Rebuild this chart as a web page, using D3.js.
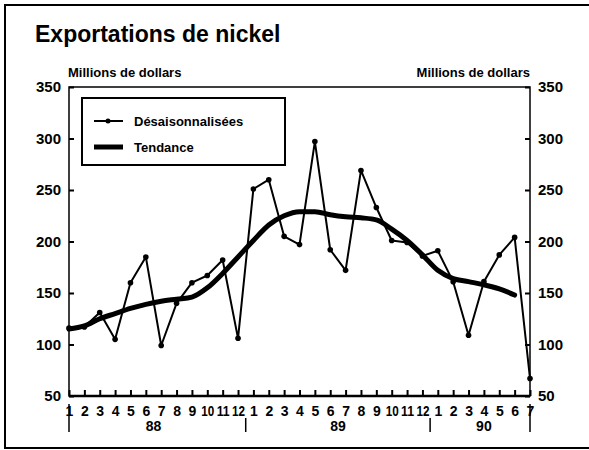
<!DOCTYPE html>
<html>
<head>
<meta charset="utf-8">
<script src="https://cdn.jsdelivr.net/npm/d3@7"></script>
<style>
  body { margin: 0; background: #fff; overflow: hidden; }
  svg text { font-family: "Liberation Sans", Arial, sans-serif; font-weight: bold; fill: #000; }
</style>
</head>
<body>
<svg id="chart" width="589" height="450"></svg>
<script>
// mois (janv. 1988 a juil. 1990)
var monthLabels = ["1","2","3","4","5","6","7","8","9","10","11","12",
                   "1","2","3","4","5","6","7","8","9","10","11","12",
                   "1","2","3","4","5","6","7"];
var years = [
  { label: "88", from: 0, to: 11 },
  { label: "89", from: 12, to: 23 },
  { label: "90", from: 24, to: 30 }
];
var yTicks = [50, 100, 150, 200, 250, 300, 350];

// Desaisonnalisees
var desais = [116, 117, 131, 105, 160, 185, 99, 140, 160, 167, 182, 106,
              251, 260, 205, 197, 297, 192, 172, 269, 233, 201, 199, 186,
              191, 161, 109, 161, 187, 204, 67];
// Tendance (jusqu'a juin 1990)
var tendance = [115, 118, 125, 130, 135, 139, 142, 144, 146, 155, 169, 185,
                201, 216, 225, 229, 229, 226, 224, 223, 221, 212, 201, 187,
                172, 164, 161, 158, 154, 148];

var svg = d3.select("#chart");
var plotL = 69, plotR = 530, plotT = 87, plotB = 396;

var x = d3.scaleLinear().domain([0, monthLabels.length - 1]).range([plotL, plotR]);
var y = d3.scaleLinear().domain([50, 350]).range([plotB, plotT]);

// cadre exterieur (le bord droit sort de l'image)
svg.append("rect")
  .attr("x", 5).attr("y", 5).attr("width", 600).attr("height", 443)
  .attr("fill", "none").attr("stroke", "#000").attr("stroke-width", 2);

svg.append("text")
  .attr("x", 35).attr("y", 42)
  .attr("font-size", 23)
  .text("Exportations de nickel");

svg.append("text").attr("x", 68).attr("y", 77).attr("font-size", 13).text("Millions de dollars");
svg.append("text").attr("x", 530).attr("y", 77).attr("font-size", 13)
  .attr("text-anchor", "end").text("Millions de dollars");

// zone du graphique
svg.append("rect")
  .attr("x", plotL).attr("y", plotT).attr("width", plotR - plotL).attr("height", plotB - plotT)
  .attr("fill", "none").attr("stroke", "#000").attr("stroke-width", 1.5);
svg.append("line")
  .attr("x1", plotL).attr("x2", plotR).attr("y1", plotB).attr("y2", plotB)
  .attr("stroke", "#000").attr("stroke-width", 2.5);

// axes verticaux
var yLeft = d3.axisLeft(y).tickValues(yTicks).tickSize(-5).tickPadding(8);
var yRight = d3.axisRight(y).tickValues(yTicks).tickSize(-5).tickPadding(8);
var gl = svg.append("g").attr("transform", "translate(" + plotL + ",0)").call(yLeft);
var gr = svg.append("g").attr("transform", "translate(" + plotR + ",0)").call(yRight);
[gl, gr].forEach(function(g) {
  g.select(".domain").remove();
  g.selectAll(".tick line").attr("stroke", "#000").attr("stroke-width", 2);
  g.selectAll(".tick text").attr("font-size", 15).attr("font-family", null).attr("fill", "#000");
});

// axe horizontal
var xAxis = d3.axisBottom(x).tickValues(d3.range(monthLabels.length))
  .tickSize(-6).tickPadding(10)
  .tickFormat(function(i) { return monthLabels[i]; });
var gx = svg.append("g").attr("transform", "translate(0," + plotB + ")").call(xAxis);
gx.select(".domain").remove();
gx.selectAll(".tick line").attr("stroke", "#000").attr("stroke-width", 2);
gx.selectAll(".tick text")
  .attr("font-size", 14).attr("font-family", null).attr("fill", "#000")
  .each(function(i) {
    if (monthLabels[i].length > 1) {
      d3.select(this).attr("textLength", 13).attr("lengthAdjust", "spacingAndGlyphs");
    }
  });

// annees
svg.selectAll(".year").data(years).enter().append("text")
  .attr("class", "year")
  .attr("x", function(d) { return (x(d.from) + x(d.to)) / 2; })
  .attr("y", 431)
  .attr("font-size", 14)
  .attr("text-anchor", "middle")
  .text(function(d) { return d.label; });

// separateurs d'annees
var seps = [0, 11.5, 23.5, 30];
svg.selectAll(".sep").data(seps).enter().append("line")
  .attr("x1", function(d) { return x(d); }).attr("x2", function(d) { return x(d); })
  .attr("y1", function(d, i) { return (i === 0 || i === 3) ? 404 : 418; })
  .attr("y2", 432)
  .attr("stroke", "#000").attr("stroke-width", 1.5);

// series
var line = d3.line().x(function(d, i) { return x(i); }).y(function(d) { return y(d); });

svg.append("path").datum(tendance)
  .attr("d", line.curve(d3.curveMonotoneX))
  .attr("fill", "none").attr("stroke", "#000").attr("stroke-width", 5)
  .attr("stroke-linejoin", "round").attr("stroke-linecap", "round");

svg.append("path").datum(desais)
  .attr("d", line.curve(d3.curveLinear))
  .attr("fill", "none").attr("stroke", "#000").attr("stroke-width", 2)
  .attr("stroke-linejoin", "round");

svg.selectAll(".dot").data(desais).enter().append("circle")
  .attr("class", "dot")
  .attr("cx", function(d, i) { return x(i); })
  .attr("cy", function(d) { return y(d); })
  .attr("r", 2.8).attr("fill", "#000");

// legende
var lg = svg.append("g");
lg.append("rect")
  .attr("x", 82).attr("y", 98).attr("width", 203).attr("height", 67)
  .attr("fill", "#fff").attr("stroke", "#000").attr("stroke-width", 2);
lg.append("line").attr("x1", 94).attr("x2", 123).attr("y1", 121).attr("y2", 121)
  .attr("stroke", "#000").attr("stroke-width", 2);
lg.append("circle").attr("cx", 108).attr("cy", 121).attr("r", 2.5).attr("fill", "#000");
lg.append("line").attr("x1", 94).attr("x2", 123).attr("y1", 147).attr("y2", 147)
  .attr("stroke", "#000").attr("stroke-width", 5);
lg.append("text").attr("x", 134).attr("y", 126).attr("font-size", 13).text("Désaisonnalisées");
lg.append("text").attr("x", 134).attr("y", 152).attr("font-size", 13).text("Tendance");
</script>
</body>
</html>
